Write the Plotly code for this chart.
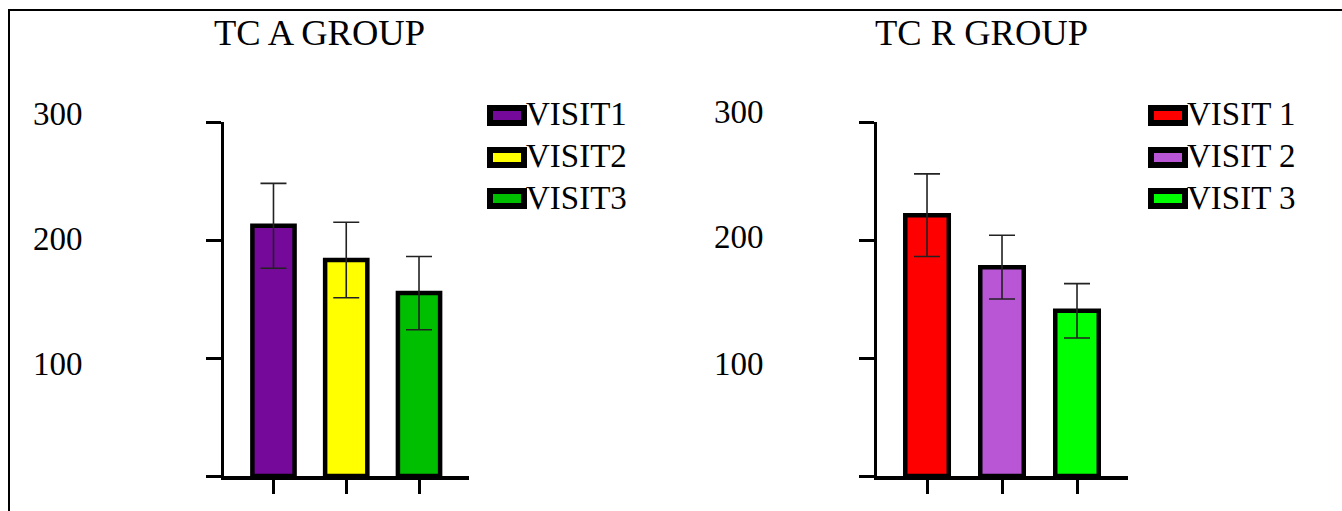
import plotly.graph_objects as go

# ---------------- data ----------------
groups = ["TC A GROUP", "TC R GROUP"]
visits_a = ["VISIT1", "VISIT2", "VISIT3"]
means_a = [212, 183, 155]
errs_a = [36, 32, 31]
visits_r = ["VISIT 1", "VISIT 2", "VISIT 3"]
means_r = [221, 177, 140]
errs_r = [35, 27, 23]
colors_a = ["#74099A", "#FFFF00", "#00BF00"]
colors_r = ["#FF0000", "#B856D6", "#00FF00"]
y_tick_vals = [0, 100, 200, 300]
y_tick_labels = ["100", "200", "300"]

W, H = 1342, 511
FONT = "Liberation Serif, Times New Roman, serif"


def px(x):
    return x / W


def py(y):
    return 1 - y / H


fig = go.Figure()

panels = [
    dict(visits=visits_a, means=means_a, errs=errs_a, colors=colors_a, xa="x", ya="y"),
    dict(visits=visits_r, means=means_r, errs=errs_r, colors=colors_r, xa="x2", ya="y2"),
]

for p in panels:
    for i, (v, m, e, c) in enumerate(zip(p["visits"], p["means"], p["errs"], p["colors"])):
        fig.add_trace(go.Bar(
            x=[i], y=[m], name=v, width=0.58,
            marker=dict(color=c, line=dict(color="black", width=4.5)),
            error_y=dict(type="data", array=[e], visible=True, color="#222222",
                         thickness=1.6, width=13),
            xaxis=p["xa"], yaxis=p["ya"], showlegend=False,
        ))

ydom = [35 / H, 1 - 122 / H]
axis_common_y = dict(range=[0, 300], domain=ydom, showgrid=False, zeroline=False,
                     showline=True, linecolor="black", linewidth=2.5,
                     tickmode="array", tickvals=y_tick_vals, ticks="outside",
                     ticklen=15, tickwidth=2.5, tickcolor="black",
                     showticklabels=False, fixedrange=True)
axis_common_x = dict(showgrid=False, zeroline=False, showline=True, linecolor="black",
                     linewidth=3.5, tickmode="array", tickvals=[0, 1, 2],
                     ticks="outside", ticklen=14, tickwidth=2.5, tickcolor="black",
                     showticklabels=False, fixedrange=True)

fig.update_layout(
    width=W, height=H,
    margin=dict(l=0, r=0, t=0, b=0),
    paper_bgcolor="white", plot_bgcolor="white",
    barmode="overlay",
    showlegend=False,
    font=dict(family=FONT, color="black"),
    xaxis=dict(domain=[px(224), px(469)], range=[-0.68, 2.687], anchor="y", **axis_common_x),
    yaxis=dict(anchor="x", **axis_common_y),
    xaxis2=dict(domain=[px(877), px(1128)], range=[-0.667, 2.68], anchor="y2", **axis_common_x),
    yaxis2=dict(anchor="x2", **axis_common_y),
)

annotations = []
shapes = []

# titles
for title, cx in zip(groups, [319, 981]):
    annotations.append(dict(text=title, x=px(cx), y=py(32), xref="paper", yref="paper",
                            xanchor="center", yanchor="middle", showarrow=False,
                            font=dict(size=36.5, family=FONT, color="black")))

# y tick labels (placed by axis value)
label_cfg = [("y", 85, [-6, 1, 8]), ("y2", 766, [-6, 3, 10])]
for yref, right_x, shifts in label_cfg:
    for lab, sh in zip(y_tick_labels, shifts):
        annotations.append(dict(text=lab, x=px(right_x), y=float(lab), xref="paper", yref=yref,
                                xanchor="right", yanchor="middle", yshift=sh, showarrow=False,
                                font=dict(size=33, family=FONT, color="black")))

# legends
legend_cfg = [(visits_a, colors_a, 487), (visits_r, colors_r, 1148)]
row_centers = [115.5, 157.5, 198.5]
for names, cols, lx in legend_cfg:
    for name, col, rc in zip(names, cols, row_centers):
        shapes.append(dict(type="rect", xref="paper", yref="paper",
                           x0=px(lx + 3), x1=px(lx + 37), y0=py(rc + 7.5), y1=py(rc - 7.5),
                           fillcolor=col, line=dict(color="black", width=6)))
        annotations.append(dict(text=name, x=px(lx + 40), y=py(rc - 1), xref="paper", yref="paper",
                                xanchor="left", yanchor="middle", xshift=-3, showarrow=False,
                                font=dict(size=33, family=FONT, color="black")))

# outer frame (left and top edges only are visible)
shapes.append(dict(type="line", xref="paper", yref="paper", x0=px(9), x1=px(9),
                   y0=-0.1, y1=py(10), line=dict(color="black", width=2)))
shapes.append(dict(type="line", xref="paper", yref="paper", x0=px(8), x1=1.2,
                   y0=py(10), y1=py(10), line=dict(color="black", width=2)))

fig.update_layout(annotations=annotations, shapes=shapes)
fig.write_html("out.html")
